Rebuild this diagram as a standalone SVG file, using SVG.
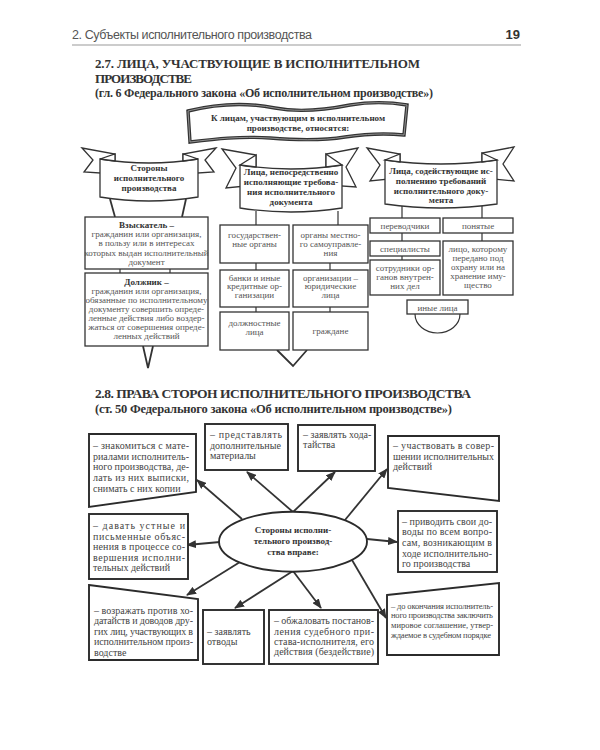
<svg xmlns="http://www.w3.org/2000/svg" width="600" height="750" viewBox="0 0 600 750">
<defs>
<style>
.bx{fill:#fff;stroke:#333;stroke-width:1.3}
.bx2{fill:#fff;stroke:#2b2b2b;stroke-width:1.9}
.t{font-family:"Liberation Serif","DejaVu Serif",serif;font-size:9px;fill:#555;text-anchor:middle}
.tb{font-family:"Liberation Serif","DejaVu Serif",serif;font-size:9px;fill:#333;font-weight:bold;text-anchor:middle}
.s2{font-family:"Liberation Serif","DejaVu Serif",serif;font-size:10px;fill:#444}
.s3{font-family:"Liberation Serif","DejaVu Serif",serif;font-size:8.5px;fill:#444}
.ttl{font-family:"Liberation Serif","DejaVu Serif",serif;font-weight:bold;fill:#333}
.ln{stroke:#333;stroke-width:1.8;fill:none}
.tk{stroke:#333;stroke-width:1.2;fill:none}
.ar{stroke:#333;stroke-width:1.8;fill:none;marker-end:url(#ah)}
</style>
<marker id="ah" markerWidth="10" markerHeight="8" refX="9" refY="4" orient="auto" markerUnits="userSpaceOnUse">
<path d="M0,0 L10,4 L0,8 Z" fill="#333"/>
</marker>
</defs>
<rect width="600" height="750" fill="#fff"/>

<g id="header">
<text x="72" y="39" font-family="Liberation Sans, Arial, sans-serif" font-size="12.5" fill="#555" textLength="240">2. Субъекты исполнительного производства</text>
<text x="520" y="39" font-family="Liberation Sans, Arial, sans-serif" font-size="13" font-weight="bold" fill="#333" text-anchor="end">19</text>
<line x1="72" y1="45" x2="521" y2="45" stroke="#999" stroke-width="1"/>
</g>

<g id="title-27">
<text class="ttl" x="95" y="68" font-size="13" textLength="325">2.7. ЛИЦА, УЧАСТВУЮЩИЕ В ИСПОЛНИТЕЛЬНОМ</text>
<text class="ttl" x="95" y="83" font-size="13" textLength="97">ПРОИЗВОДСТВЕ</text>
<text class="ttl" x="95" y="97" font-size="12" textLength="338">(гл. 6 Федерального закона «Об исполнительном производстве»)</text>
</g>

<g id="flag">
<path d="M188,111 C220,103 250,103 275,108 C300,113 330,109 350,105 C375,101 395,103 407,105 L404,135 C385,133 365,134 345,137 C320,141 295,140 270,138 C240,136 215,139 190,142 Z" fill="#fff" stroke="#333" stroke-width="3.4"/>
<path d="M188,111 C220,103 250,103 275,108 C300,113 330,109 350,105 C375,101 395,103 407,105 L404,135 C385,133 365,134 345,137 C320,141 295,140 270,138 C240,136 215,139 190,142 Z" fill="none" stroke="#aaa" stroke-width="0.8"/>
<text class="tb" x="298" y="121" font-size="9.5">К лицам, участвующим в исполнительном</text>
<text class="tb" x="298" y="131" font-size="9.5">производстве, относятся:</text>
</g>

<g id="banner-parties">
<path class="bx" d="M82,148 L115,154 L115,174 L84,172 L93,160 Z"/>
<path class="bx" d="M216,148 L183,154 L183,174 L214,172 L205,160 Z"/>
<path class="bx" d="M100,159 Q149,167 198,159 L198,197 Q149,205 100,197 Z"/>
<path class="bx" d="M100,159 L115,154 L115,161 Z"/>
<path class="bx" d="M198,159 L183,154 L183,161 Z"/>
<text class="tb" x="149" y="171">Стороны</text>
<text class="tb" x="149" y="181">исполнительного</text>
<text class="tb" x="149" y="191">производства</text>
</g>

<g id="banner-executors">
<path class="bx" d="M222,149 L256,155 L256,185 L226,188 L236,168 Z"/>
<path class="bx" d="M358,148 L326,154 L326,185 L356,187 L346,167 Z"/>
<path class="bx" d="M240,165 Q291,173 342,165 L342,208 Q291,216 240,208 Z"/>
<path class="bx" d="M240,165 L256,155 L256,167 Z"/>
<path class="bx" d="M342,165 L326,154 L326,167 Z"/>
<text class="tb" x="291" y="175">Лица, непосредственно</text>
<text class="tb" x="291" y="185">исполняющие требова-</text>
<text class="tb" x="291" y="195">ния исполнительного</text>
<text class="tb" x="291" y="204.5">документа</text>
</g>

<g id="banner-assist">
<path class="bx" d="M367,148 L400,154 L400,178 L370,181 L380,165 Z"/>
<path class="bx" d="M514,147 L482,153 L482,178 L514,181 L503,164 Z"/>
<path class="bx" d="M385,160 Q441,168 497,160 L497,204 Q441,212 385,204 Z"/>
<path class="bx" d="M385,160 L400,154 L400,162 Z"/>
<path class="bx" d="M497,160 L482,153 L482,162 Z"/>
<text class="tb" x="441" y="174">Лица, содействующие ис-</text>
<text class="tb" x="441" y="184">полнению требований</text>
<text class="tb" x="441" y="193.5">исполнительного доку-</text>
<text class="tb" x="441" y="203">мента</text>
</g>

<g id="connectors-27">
<line class="ln" x1="110" y1="199" x2="115" y2="217"/>
<line class="ln" x1="186" y1="199" x2="182" y2="217"/>
<line class="tk" x1="120" y1="269" x2="120" y2="273"/>
<line class="tk" x1="170" y1="269" x2="170" y2="273"/>
<polyline class="ln" points="143,346 148,368 153,346"/>
<line class="tk" x1="256" y1="211" x2="256" y2="225"/>
<line class="tk" x1="338" y1="211" x2="338" y2="225"/>
<line class="tk" x1="256" y1="263" x2="256" y2="270"/>
<line class="tk" x1="330" y1="263" x2="330" y2="270"/>
<line class="tk" x1="256" y1="307" x2="256" y2="312"/>
<line class="tk" x1="330" y1="307" x2="330" y2="312"/>
<polyline class="ln" points="277,350 293,366 307,350"/>
<line class="tk" x1="402" y1="206" x2="402" y2="218"/>
<line class="tk" x1="482" y1="206" x2="482" y2="218"/>
<line class="tk" x1="402" y1="233" x2="402" y2="241"/>
<line class="tk" x1="482" y1="233" x2="482" y2="241"/>
<line class="tk" x1="402" y1="256" x2="402" y2="260"/>
<path class="tk" d="M415,314 A22.5,19 0 0 0 460,314"/>
</g>

<g id="vzyskatel">
<rect class="bx" x="85" y="217" width="123" height="52"/>
<text class="tb" x="146.5" y="228">Взыскатель –</text>
<text class="t" x="146.5" y="237.2">гражданин или организация,</text>
<text class="t" x="146.5" y="246.4">в пользу или в интересах</text>
<text class="t" x="146.5" y="255.6">которых выдан исполнительный</text>
<text class="t" x="146.5" y="264.8">документ</text>
</g>

<g id="dolzhnik">
<rect class="bx" x="85" y="273" width="123" height="73"/>
<text class="tb" x="146.5" y="285">Должник –</text>
<text class="t" x="146.5" y="294">гражданин или организация,</text>
<text class="t" x="146.5" y="303">обязанные по исполнительному</text>
<text class="t" x="146.5" y="312">документу совершить опреде-</text>
<text class="t" x="146.5" y="321">ленные действия либо воздер-</text>
<text class="t" x="146.5" y="330">жаться от совершения опреде-</text>
<text class="t" x="146.5" y="339">ленных действий</text>
</g>

<g id="gos-organy">
<rect class="bx" x="220" y="225" width="69" height="38"/>
<text class="t" x="254.5" y="238">государствен-</text>
<text class="t" x="254.5" y="247">ные органы</text>
</g>
<g id="mestnoe">
<rect class="bx" x="293" y="225" width="75" height="38"/>
<text class="t" x="330.5" y="238">органы местно-</text>
<text class="t" x="330.5" y="247">го самоуправле-</text>
<text class="t" x="330.5" y="256">ния</text>
</g>
<g id="banki">
<rect class="bx" x="220" y="270" width="69" height="37"/>
<text class="t" x="254.5" y="280.5">банки и иные</text>
<text class="t" x="254.5" y="289">кредитные ор-</text>
<text class="t" x="254.5" y="297.5">ганизации</text>
</g>
<g id="org-yur">
<rect class="bx" x="293" y="270" width="75" height="37"/>
<text class="t" x="330.5" y="280.5">организации –</text>
<text class="t" x="330.5" y="289">юридические</text>
<text class="t" x="330.5" y="297.5">лица</text>
</g>
<g id="dolzh-lica">
<rect class="bx" x="220" y="312" width="69" height="38"/>
<text class="t" x="254.5" y="326">должностные</text>
<text class="t" x="254.5" y="334.5">лица</text>
</g>
<g id="grazhdane">
<rect class="bx" x="293" y="312" width="75" height="38"/>
<text class="t" x="330.5" y="334">граждане</text>
</g>

<g id="perevodchiki">
<rect class="bx" x="370" y="218" width="70" height="15"/>
<text class="t" x="405" y="228.5">переводчики</text>
</g>
<g id="ponyatye">
<rect class="bx" x="443" y="218" width="70" height="15"/>
<text class="t" x="478" y="228.5">понятые</text>
</g>
<g id="specialisty">
<rect class="bx" x="370" y="241" width="70" height="15"/>
<text class="t" x="405" y="251.5">специалисты</text>
</g>
<g id="sotrudniki">
<rect class="bx" x="370" y="260" width="70" height="35"/>
<text class="t" x="405" y="270.5">сотрудники ор-</text>
<text class="t" x="405" y="279.5">ганов внутрен-</text>
<text class="t" x="405" y="289">них дел</text>
</g>
<g id="lico">
<rect class="bx" x="443" y="241" width="70" height="54"/>
<text class="t" x="478" y="251.5">лицо, которому</text>
<text class="t" x="478" y="260.5">передано под</text>
<text class="t" x="478" y="270">охрану или на</text>
<text class="t" x="478" y="279">хранение иму-</text>
<text class="t" x="478" y="288">щество</text>
</g>
<g id="inye">
<rect class="bx" x="407" y="300" width="61" height="14"/>
<text class="t" x="437.5" y="310.5">иные лица</text>
</g>

<g id="title-28">
<text class="ttl" x="95" y="398" font-size="13.5" textLength="376">2.8. ПРАВА СТОРОН ИСПОЛНИТЕЛЬНОГО ПРОИЗВОДСТВА</text>
<text class="ttl" x="95" y="412.5" font-size="12.5" textLength="357">(ст. 50 Федерального закона «Об исполнительном производстве»)</text>
</g>

<g id="arrows">
<line class="ar" x1="242" y1="519" x2="197" y2="480"/>
<line class="ar" x1="293" y1="512" x2="247" y2="472"/>
<line class="ar" x1="293" y1="512" x2="335" y2="472"/>
<line class="ar" x1="345" y1="520" x2="387" y2="469"/>
<line class="ar" x1="367" y1="539" x2="397" y2="542"/>
<line class="ar" x1="220" y1="542" x2="187" y2="545"/>
<line class="ar" x1="240" y1="562" x2="187" y2="595"/>
<line class="ar" x1="293" y1="571" x2="235" y2="608"/>
<line class="ar" x1="293" y1="571" x2="321" y2="608"/>
<line class="ar" x1="352" y1="560" x2="386" y2="618"/>
</g>

<g id="center">
<ellipse class="bx2" cx="293" cy="541.7" rx="74" ry="30"/>
<text class="tb" x="293" y="533" font-size="10">Стороны исполни-</text>
<text class="tb" x="293" y="543.7" font-size="10">тельного производ-</text>
<text class="tb" x="293" y="554.5" font-size="10">ства вправе:</text>
</g>

<g id="b-znak">
<path class="bx2" d="M89,434 L196,434 L196,492 L89,507 Z"/>
<text class="s2" x="93" y="449" textLength="96">– знакомиться с мате-</text>
<text class="s2" x="93" y="459.7" textLength="96">риалами исполнитель-</text>
<text class="s2" x="93" y="470.4" textLength="96">ного производства, де-</text>
<text class="s2" x="93" y="481" textLength="96">лать из них выписки,</text>
<text class="s2" x="93" y="491.7">снимать с них копии</text>
</g>

<g id="b-davat">
<rect class="bx2" x="89" y="514" width="99" height="65"/>
<text class="s2" x="93" y="529" textLength="92">– давать устные и</text>
<text class="s2" x="93" y="539.5" textLength="92">письменные объяс-</text>
<text class="s2" x="93" y="550" textLength="92">нения в процессе со-</text>
<text class="s2" x="93" y="560.5" textLength="92">вершения исполни-</text>
<text class="s2" x="93" y="571">тельных действий</text>
</g>

<g id="b-predst">
<rect class="bx2" x="205" y="424" width="83" height="46"/>
<text class="s2" x="210" y="438" textLength="72">– представлять</text>
<text class="s2" x="210" y="448.5">дополнительные</text>
<text class="s2" x="210" y="458.5">материалы</text>
</g>

<g id="b-hodat">
<rect class="bx2" x="298" y="425" width="77" height="46"/>
<text class="s2" x="303" y="438">– заявлять хода-</text>
<text class="s2" x="303" y="448">тайства</text>
</g>

<g id="b-uchast">
<path class="bx2" d="M388,436 L499,436 L499,501 L388,488 Z"/>
<text class="s2" x="393" y="449" textLength="101">– участвовать в совер-</text>
<text class="s2" x="393" y="459.7" textLength="101">шении исполнительных</text>
<text class="s2" x="393" y="470.3">действий</text>
</g>

<g id="b-privod">
<rect class="bx2" x="398" y="511" width="99" height="61"/>
<text class="s2" x="402" y="524.7" textLength="90">– приводить свои до-</text>
<text class="s2" x="402" y="535.3" textLength="90">воды по всем вопро-</text>
<text class="s2" x="402" y="546" textLength="90">сам, возникающим в</text>
<text class="s2" x="402" y="556.5" textLength="90">ходе исполнительно-</text>
<text class="s2" x="402" y="567">го производства</text>
</g>

<g id="b-mirovoe">
<path class="bx2" d="M387,595 L499,583 L499,655 L387,655 Z"/>
<text class="s3" x="391" y="608.5" textLength="102">– до окончания исполнитель-</text>
<text class="s3" x="391" y="617.5" textLength="102">ного производства заключить</text>
<text class="s3" x="391" y="627.5" textLength="102">мировое соглашение, утвер-</text>
<text class="s3" x="391" y="637.5" textLength="100">ждаемое в судебном порядке</text>
</g>

<g id="b-vozr">
<path class="bx2" d="M89,585 L198,599 L198,660 L89,660 Z"/>
<text class="s2" x="94" y="613.7" textLength="99">– возражать против хо-</text>
<text class="s2" x="94" y="624.2" textLength="99">датайств и доводов дру-</text>
<text class="s2" x="94" y="634.5" textLength="99">гих лиц, участвующих в</text>
<text class="s2" x="94" y="645" textLength="99">исполнительном произ-</text>
<text class="s2" x="94" y="655.5">водстве</text>
</g>

<g id="b-otvod">
<rect class="bx2" x="203" y="610" width="61" height="54"/>
<text class="s2" x="207" y="634.5">– заявлять</text>
<text class="s2" x="207" y="644.7">отводы</text>
</g>

<g id="b-obzh">
<rect class="bx2" x="269" y="610" width="109" height="54"/>
<text class="s2" x="274" y="624" textLength="100">– обжаловать постанов-</text>
<text class="s2" x="274" y="634.5" textLength="100">ления судебного при-</text>
<text class="s2" x="274" y="644.7" textLength="100">става-исполнителя, его</text>
<text class="s2" x="274" y="654.7" textLength="100">действия (бездействие)</text>
</g>
</svg>
